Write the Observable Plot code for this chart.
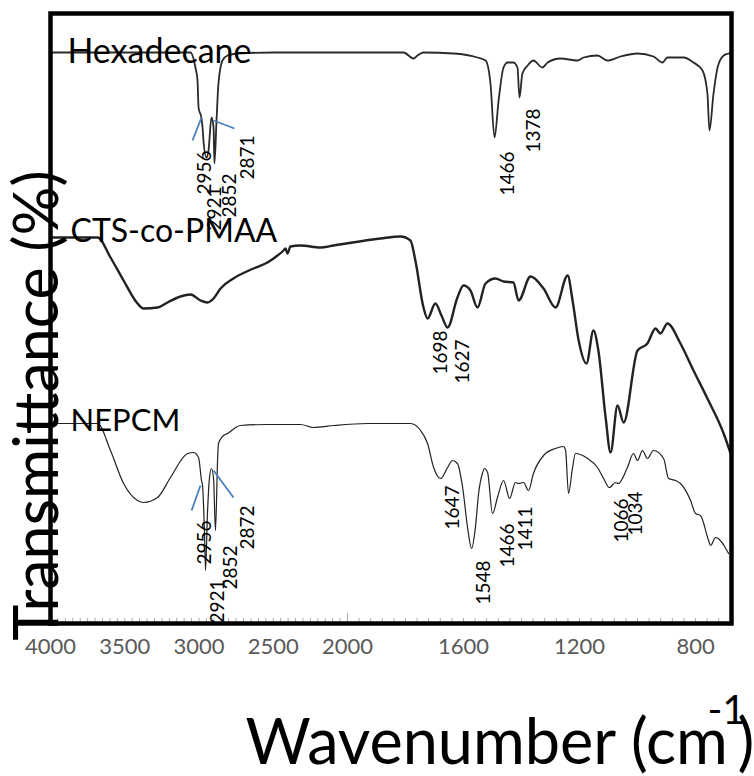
<!DOCTYPE html>
<html><head><meta charset="utf-8">
<script src="https://cdn.jsdelivr.net/npm/d3@7"></script>
<script src="https://cdn.jsdelivr.net/npm/@observablehq/plot@0.6"></script>
<style>body{margin:0;background:#fff} svg{display:block}</style>
</head><body><div id="chart"></div>
<script>
// Wavenumber (cm-1) and transmittance (arbitrary, offset) for each spectrum
const hexWn = [4000,3500,3057,3024,3010,3003,2983,2976,2970,2950,2936,2916,2902,2896,2882,2869,2842,2808,2741,2500,2000,1807,1772,1759,1738,1634,1552,1524,1507,1493,1479,1462,1448,1428,1414,1407,1397,1379,1359,1328,1310,1266,1207,1186,1138,1104,1059,1000,945,914,897,841,807,776,759,752,738,724,703,686,676];
const hexT  = [571,571,571,556,543,516,505,496,483,466,473,506,496,460,503,540,563,568,570,571,571,571,565,568,571,570,566,563,540,486,523,556,561,561,556,526,550,558,563,556,561,565,563,566,568,563,567,570,567,561,566,566,561,553,530,493,530,556,568,570,571];

const ctsWn = [4000,3683,3596,3508,3414,3374,3279,3212,3125,3057,2990,2943,2902,2855,2768,2633,2539,2471,2431,2418,2404,2384,2316,2182,2094,1886,1817,1783,1766,1738,1724,1697,1676,1655,1621,1600,1576,1552,1524,1490,1462,1428,1410,1369,1324,1283,1241,1224,1203,1176,1152,1135,1110,1093,1069,1048,1000,966,938,921,897,852,807,759,703,679];
const ctsT  = [386,386,366,343,320,315,316,321,327,329,323,321,325,335,345,355,361,368,373,375,370,377,378,376,378,385,387,383,363,316,305,320,308,296,326,338,333,316,340,345,342,341,323,347,335,316,348,323,283,260,293,273,206,171,218,201,273,280,295,290,300,280,253,225,190,170];

const nepWn = [4000,3683,3596,3508,3414,3374,3279,3192,3077,3037,3003,2983,2976,2963,2956,2943,2930,2916,2902,2889,2875,2869,2842,2808,2721,2539,2316,2229,2094,1931,1817,1783,1748,1724,1703,1679,1655,1638,1621,1603,1586,1572,1559,1548,1535,1528,1517,1500,1483,1462,1441,1421,1410,1393,1376,1359,1324,1283,1255,1248,1238,1224,1214,1172,1138,1117,1097,1076,1066,1035,1014,1000,983,966,945,910,893,869,852,817,800,783,755,748,731,686];
const nepT  = [200,200,173,140,123,121,126,146,170,171,166,143,138,90,53,110,145,155,145,93,163,180,187,190,198,199,199,196,198,200,200,200,193,180,156,145,156,163,160,136,96,75,96,130,150,155,151,110,126,143,125,141,140,141,133,150,168,175,177,173,130,156,170,165,156,145,136,141,140,156,170,163,173,165,173,165,145,143,140,123,110,108,83,78,86,70];

const seriesNames = ["Hexadecane", "CTS-co-PMAA", "NEPCM"];
const seriesLabelWn = [3886, 3865, 3865];
const seriesLabelT = [561, 382, 193];

// Peak annotations
const peakText = ["2956","2921","2852","2871","1466","1378","1698","1627","2956","2921","2852","2872","1647","1548","1466","1411","1066","1034"];
const peakWn   = [2963,2896,2795,2673,1448,1359,1679,1603,2963,2875,2788,2673,1638,1531,1448,1386,1055,1007];
const peakT    = [451,415,428,466,450,493,271,262,81,22,56,96,116,41,78,95,103,110];

// Blue pointer segments (wavenumber/transmittance end points)
const pointerWn1 = [3044, 2902, 3050, 2902];
const pointerT1  = [483, 503, 113, 153];
const pointerWn2 = [2983, 2761, 2990, 2768];
const pointerT2  = [506, 495, 138, 126];

const majorTicks = [4000, 3500, 3000, 2500, 2000, 1600, 1200, 800];
const minorTicks = [...d3.range(4000, 2000, -50), ...d3.range(2000, 690, -40)];

// Axis break at 2000 cm-1: the high-wavenumber part is compressed
const axisBreak = d3.scaleLinear().domain([4000, 2000, 676]).range([0, 297, 681]);

const toPts = (wn, t) => wn.map((w, i) => ({wn: w, t: t[i]}));
const hex = toPts(hexWn, hexT);
const cts = toPts(ctsWn, ctsT);
const nep = toPts(nepWn, nepT);
const seriesLabels = seriesNames.map((n, i) => ({name: n, wn: seriesLabelWn[i], t: seriesLabelT[i]}));
const peaks = peakText.map((s, i) => ({label: s, wn: peakWn[i], t: peakT[i]}));
const pointers = pointerWn1.map((w, i) => ({x1: w, y1: pointerT1[i], x2: pointerWn2[i], y2: pointerT2[i]}));

const FONT = "Lato, 'Open Sans', sans-serif";
const labelSize = {"Hexadecane": 34, "CTS-co-PMAA": 32, "NEPCM": 31};

const chart = Plot.plot({
  width: 754, height: 776,
  marginLeft: 50, marginRight: 23, marginTop: 13, marginBottom: 153,
  style: {fontFamily: FONT, background: "white", overflow: "visible"},
  x: {type: "linear", transform: axisBreak, domain: [0, 681]},
  y: {domain: [0, 610], axis: null},
  marks: [
    Plot.ruleX(minorTicks, {x: d => d, y1: 0, y2: 5, stroke: "#aaa", strokeWidth: 1}),
    Plot.ruleX([2000], {x: d => d, y1: 0, y2: 10, stroke: "#aaa", strokeWidth: 1}),
    Plot.line(hex, {x: "wn", y: "t", stroke: "#2a2a2a", strokeWidth: 1.8, curve: "monotone-x"}),
    Plot.line(cts, {x: "wn", y: "t", stroke: "#222", strokeWidth: 2.4, curve: "monotone-x"}),
    Plot.line(nep, {x: "wn", y: "t", stroke: "#222", strokeWidth: 1.2, curve: "monotone-x"}),
    Plot.link(pointers, {x1: "x1", y1: "y1", x2: "x2", y2: "y2", stroke: "#4a7ebb", strokeWidth: 1.8}),
    Plot.text(peaks, {x: "wn", y: "t", text: "label", rotate: -90, fontSize: 19, fill: "#000", textAnchor: "middle", lineAnchor: "middle"}),
    Plot.text(seriesLabels, {x: "wn", y: "t", text: "name", fontSize: d => labelSize[d.name], fill: "#000", textAnchor: "start", lineAnchor: "bottom"}),
    Plot.frame({stroke: "#000", strokeWidth: 4.5}),
    Plot.axisX(majorTicks, {anchor: "bottom", tickSize: 0, tickPadding: 15, fill: "#595959", fontSize: 22, tickFormat: d => String(d), label: null}),
    Plot.text(["Transmittance (%)"], {frameAnchor: "left", rotate: -90, dx: -12, dy: 87, fontSize: 61, fill: "#000", textAnchor: "middle", lineAnchor: "middle"}),
    Plot.text(["Wavenumber (cm"], {frameAnchor: "bottom-left", dx: 195, dy: 140, fontSize: 63, fill: "#000", textAnchor: "start", lineAnchor: "bottom"}),
    Plot.text(["-1"], {frameAnchor: "bottom-left", dx: 657, dy: 100, fontSize: 40, fill: "#000", textAnchor: "start", lineAnchor: "bottom"}),
    Plot.text([")"], {frameAnchor: "bottom-left", dx: 687, dy: 140, fontSize: 63, fill: "#000", textAnchor: "start", lineAnchor: "bottom"})
  ]
});
document.getElementById("chart").appendChild(chart);
</script>
</body></html>
